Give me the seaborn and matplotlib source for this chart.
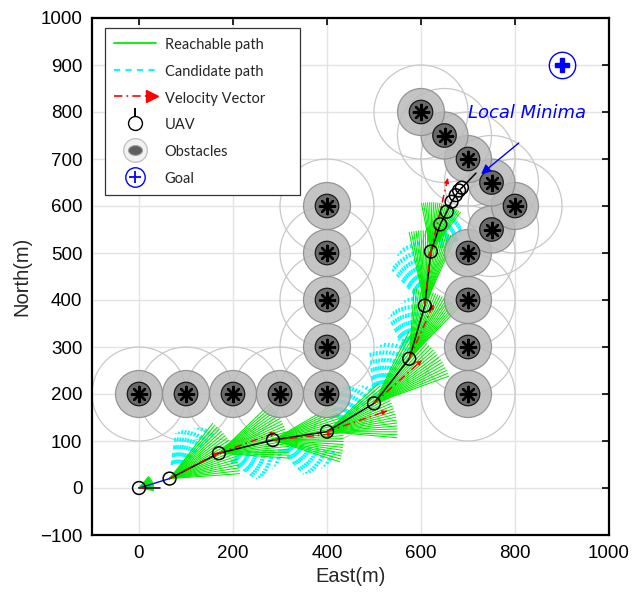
import numpy as np
import pandas as pd
import matplotlib
matplotlib.use("Agg")
import matplotlib.pyplot as plt
import seaborn as sns
from matplotlib.patches import Circle
from matplotlib.lines import Line2D
from matplotlib.collections import LineCollection
from matplotlib.legend_handler import HandlerBase, HandlerTuple
from matplotlib.path import Path

# ---------------- data ----------------
obs_x = [0, 100, 200, 300, 400, 400, 400, 400, 400, 700, 700, 700, 700, 750, 800, 750, 700, 650, 600]
obs_y = [200, 200, 200, 200, 200, 300, 400, 500, 600, 200, 300, 400, 500, 550, 600, 650, 700, 750, 800]

uav_x = [0, 65, 170, 285, 400, 500, 575, 608, 621, 641, 655, 665, 674, 681, 687]
uav_y = [0, 20, 74, 102, 120, 180, 275, 388, 503, 561, 588, 609, 623, 633, 639]

# fans (reachable / candidate paths) issued at the first nodes
fan_node = [0, 1, 2, 3, 4, 5, 6, 7, 8]
vel_heading = [20, 28, 20, 6, 19, 42, 66, 84, 77]
fan_len = [32, 150, 150, 150, 150, 170, 150, 160, 105]
green_spread = [30, 24, 24, 24, 24, 22, 20, 18, 24]
cyan_side = [0, 1, -1, -1, 1, 1, 1, 1, -1]
vel_len = [15, 118, 128, 128, 135, 137, 127, 118, 160]

heading_end = (717, 670)
goal = (900, 900)
minima_text = (700, 798)
minima_arrow_from = (808, 734)
minima_arrow_to = (728, 668)

legend_labels = ["Reachable path", "Candidate path", "Velocity Vector", "UAV", "Obstacles", "Goal"]

# ---------------- style ----------------
sns.set_theme(style="white")
plt.rcParams["font.family"] = ["Liberation Sans", "DejaVu Sans"]

fig = plt.figure(figsize=(6.33, 5.98), dpi=100)
ax = fig.add_axes([92 / 633, 1 - 535 / 598, 517 / 633, 517 / 598])
ax.set_xlim(-100, 1000)
ax.set_ylim(-100, 1000)
ax.set_aspect("equal", adjustable="box")

ax.set_xticks([0, 200, 400, 600, 800, 1000])
ax.set_yticks(list(range(-100, 1001, 100)))
ax.grid(True, color="#e3e3e3", lw=1.0, zorder=0)
ax.set_axisbelow(True)
for sp in ax.spines.values():
    sp.set_color("black")
    sp.set_linewidth(1.6)
ax.tick_params(direction="in", length=5, width=1.2, top=True, right=True,
               labelsize=13.5, pad=7, colors="black")
ax.set_xlabel("East(m)", fontsize=14.5, labelpad=4)
ax.set_ylabel("North(m)", fontsize=14.5, labelpad=6)

# obstacles
for x, y in zip(obs_x, obs_y):
    ax.add_patch(Circle((x, y), 100, fill=False, ec="#c8c8c8", lw=0.9, zorder=1))
for x, y in zip(obs_x, obs_y):
    ax.add_patch(Circle((x, y), 50, fc="#bababa", ec="#888888", lw=0.9, alpha=0.85, zorder=3))
    ax.add_patch(Circle((x, y), 25, fc="#6a6a6a", ec="#1a1a1a", lw=0.9, zorder=3.5))
obs_df = pd.DataFrame({"x": obs_x, "y": obs_y})
sns.scatterplot(data=obs_df, x="x", y="y", marker=(8, 2, 0), s=120, color="black",
                linewidth=1.7, edgecolor="black", ax=ax, zorder=4, legend=False)

# fans
for k, n in enumerate(fan_node):
    ox, oy = uav_x[n], uav_y[n]
    L = fan_len[k]
    s = green_spread[k]
    if cyan_side[k] != 0:
        offs = cyan_side[k] * np.linspace(s - 6, s + 30, 11)
        lens = L * np.linspace(0.95, 0.65, 11)
        segs = []
        for o, ln in zip(offs, lens):
            a = np.deg2rad(vel_heading[k] + o)
            segs.append([(ox + 0.3 * ln * np.cos(a), oy + 0.3 * ln * np.sin(a)),
                         (ox + ln * np.cos(a), oy + ln * np.sin(a))])
        ax.add_collection(LineCollection(segs, colors="#00ffff", linewidths=1.4,
                                         linestyles=(0, (2.2, 1.8)), zorder=2))
    angs = np.deg2rad(vel_heading[k] + np.linspace(-s, s, 21))
    segs = [[(ox, oy), (ox + L * np.cos(a), oy + L * np.sin(a))] for a in angs]
    ax.add_collection(LineCollection(segs, colors="#00ee00", linewidths=0.75, zorder=2.2))

# path
path_df = pd.DataFrame({"x": uav_x[1:], "y": uav_y[1:]})
sns.lineplot(data=path_df, x="x", y="y", sort=False, color="black", lw=1.1, ax=ax, zorder=5)
ax.plot(uav_x[:2], uav_y[:2], color="blue", lw=1.0, zorder=5)
ax.plot([uav_x[-1], heading_end[0]], [uav_y[-1], heading_end[1]], color="black", lw=1.1, zorder=5)
ax.plot([0, 45], [0, 0], color="black", lw=1.1, zorder=5)

# velocity vectors
for k, n in enumerate(fan_node):
    ox, oy = uav_x[n], uav_y[n]
    a = np.deg2rad(vel_heading[k] if k > 0 else 0)
    ex, ey = ox + vel_len[k] * np.cos(a), oy + vel_len[k] * np.sin(a)
    ax.plot([ox, ex], [oy, ey], color="red", lw=1.1, ls=(0, (5, 2.5, 1, 2.5)), zorder=5.5)
    if k > 0:
        ax.annotate("", xy=(ex, ey), xytext=(ex - 8 * np.cos(a), ey - 8 * np.sin(a)),
                    arrowprops=dict(arrowstyle="-|>", color="red", lw=0.8,
                                    mutation_scale=7, shrinkA=0, shrinkB=0), zorder=5.5)

uav_df = pd.DataFrame({"x": uav_x, "y": uav_y})
sns.scatterplot(data=uav_df, x="x", y="y", marker="o", s=85, facecolor="none",
                edgecolor="black", linewidth=1.1, ax=ax, zorder=6, legend=False)

# goal
ax.plot([goal[0]], [goal[1]], marker="o", ms=19, mfc="none", mec="blue", mew=1.0, zorder=6)
ax.plot([goal[0]], [goal[1]], marker="P", ms=10, color="blue", mec="blue", zorder=6)

# local minima annotation
ax.annotate("", xy=minima_arrow_to, xytext=minima_arrow_from,
            arrowprops=dict(arrowstyle="-|>", color="blue", lw=1.0, mutation_scale=14,
                            shrinkA=0, shrinkB=0), zorder=7)
ax.text(minima_text[0], minima_text[1], "Local Minima", color="blue", style="italic",
        fontsize=13, va="center", ha="left", family=["DejaVu Sans"], zorder=7)


# ---------------- legend ----------------
class VelHandler(HandlerBase):
    def create_artists(self, legend, orig_handle, xdescent, ydescent, width, height,
                       fontsize, trans):
        y = (height - ydescent) / 2
        l = Line2D([-xdescent, width - xdescent - 5], [y, y], color="red", lw=1.2,
                   ls=(0, (5, 2.5, 1, 2.5)), transform=trans)
        m = Line2D([width - xdescent - 3], [y], marker=">", color="red", ms=8,
                   ls="", transform=trans)
        return [l, m]


stick = Path([(0, 0), (0, 1)], [Path.MOVETO, Path.LINETO])
theta = np.linspace(0, 2 * np.pi, 40)
ellipse = Path(np.column_stack([np.cos(theta), 0.7 * np.sin(theta)]))

h_reach = Line2D([], [], color="#00ee00", lw=1.3)
h_cand = Line2D([], [], color="#00ffff", lw=1.5, ls=(0, (3, 2.5)))
h_vel = Line2D([], [], color="red")
h_uav = (Line2D([], [], marker=stick, ms=22, color="black", mew=1.4, ls=""),
         Line2D([], [], marker="o", ms=10, mfc="white", mec="black", mew=1.0, ls=""))
h_obs = (Line2D([], [], marker="o", ms=17, mfc="#f2f2f2", mec="#c4c4c4", mew=1.0, ls=""),
         Line2D([], [], marker=ellipse, ms=10, mfc="#5e5e5e", mec="#9a9a9a", mew=0.8, ls=""))
h_goal = (Line2D([], [], marker="o", ms=14, mfc="none", mec="blue", mew=1.0, ls=""),
          Line2D([], [], marker="+", ms=9, color="blue", mew=1.3, ls=""))

leg = ax.legend([h_reach, h_cand, h_vel, h_uav, h_obs, h_goal], legend_labels,
                handler_map={h_vel: VelHandler(), tuple: HandlerTuple(ndivide=1)},
                loc="upper left", bbox_to_anchor=(0.025, 0.5, 195 / 517, 0.481),
                mode="expand", borderaxespad=0,
                fancybox=False, framealpha=1, edgecolor="#333333",
                prop={"family": ["Lato", "DejaVu Sans"], "size": 10.5},
                handlelength=2.9, handleheight=1.2, handletextpad=0.6,
                labelspacing=0.78, borderpad=0.6)
leg.get_frame().set_linewidth(0.9)
leg.set_zorder(10)

fig.savefig("out.png", dpi=100)
